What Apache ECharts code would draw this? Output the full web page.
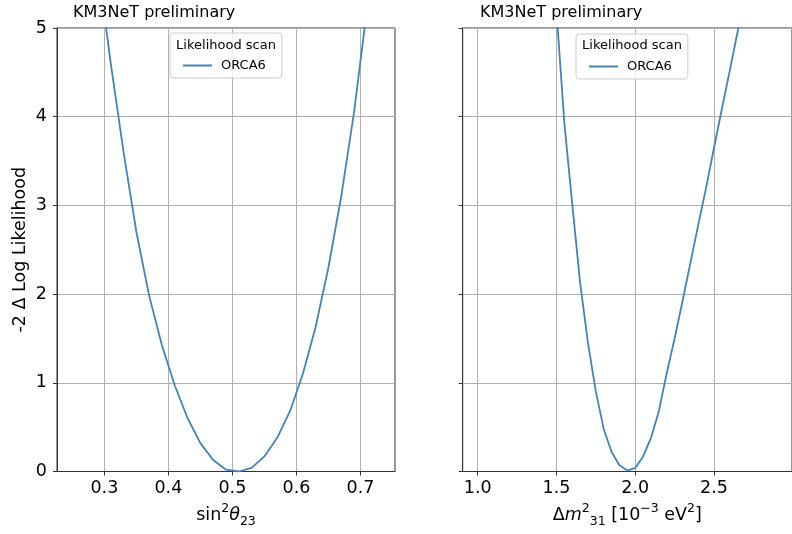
<!DOCTYPE html>
<html>
<head>
<meta charset="utf-8">
<script src="https://cdn.jsdelivr.net/npm/echarts@6/dist/echarts.min.js"></script>
<style>
  html, body { margin: 0; padding: 0; background: #fff; }
  #chart { width: 792px; height: 534px; }
</style>
</head>
<body>
<div id="chart"></div>
<script>
// sin^2 theta_23 scan
const sinX = [0.29, 0.31, 0.33, 0.35, 0.37, 0.39, 0.41, 0.43, 0.45, 0.47, 0.49, 0.51,
  0.53, 0.55, 0.57, 0.59, 0.61, 0.63, 0.65, 0.67, 0.69, 0.71]
const sinLL = [5.7, 4.6, 3.6, 2.7, 1.98, 1.42, 0.97, 0.6, 0.32, 0.13, 0.02, 0.0,
  0.04, 0.17, 0.38, 0.68, 1.1, 1.63, 2.3, 3.1, 4.05, 5.2]

// delta m^2_31 scan
const dmX = [1.45, 1.50, 1.55, 1.60, 1.65, 1.70, 1.75, 1.80, 1.85, 1.90, 1.95, 2.00, 2.05,
  2.10, 2.15, 2.20, 2.25, 2.30, 2.35, 2.40, 2.45, 2.50, 2.55, 2.60, 2.65, 2.70]
const dmLL = [6.6, 5.2, 3.93, 3.02, 2.13, 1.45, 0.9, 0.48, 0.22, 0.07, 0.01, 0.04, 0.17,
  0.38, 0.68, 1.11, 1.5, 1.92, 2.35, 2.78, 3.2, 3.65, 4.09, 4.52, 4.96, 5.4]

const sinTicks = [0.3, 0.4, 0.5, 0.6, 0.7]
const dmTicks = [1.0, 1.5, 2.0, 2.5]
const yTicks = [0, 1, 2, 3, 4, 5]

const font = 'DejaVu Sans'
const lineColor = '#4682b4'
const gridColor = '#b0b0b0'
const spineColor = '#333'

const chart = echarts.init(document.getElementById('chart'))

const xAxisBase = (min, max, ticks, gridIndex, name) => ({
  type: 'value',
  gridIndex: gridIndex,
  min: min,
  max: max,
  name: name,
  nameLocation: 'middle',
  nameGap: 31,
  nameTextStyle: {
    fontFamily: font,
    fontSize: 17.5,
    color: '#000',
    rich: {
      a: { fontFamily: font, fontSize: 17.5, color: '#000', lineHeight: 26, verticalAlign: 'middle' },
      it: { fontFamily: font, fontSize: 17.5, fontStyle: 'italic', color: '#000', lineHeight: 26, verticalAlign: 'middle' },
      sup: { fontFamily: font, fontSize: 12.5, color: '#000', verticalAlign: 'top', lineHeight: 26 },
      sub: { fontFamily: font, fontSize: 12.5, color: '#000', verticalAlign: 'bottom', lineHeight: 26 }
    }
  },
  axisLine: { show: true, lineStyle: { color: spineColor, width: 1 } },
  axisTick: { show: true, length: 4, customValues: ticks, lineStyle: { color: spineColor } },
  axisLabel: {
    customValues: ticks,
    margin: 8,
    fontFamily: font,
    fontSize: 17.5,
    color: '#000',
    formatter: v => v.toFixed(1)
  },
  splitLine: { show: true, lineStyle: { color: gridColor, width: 1 } }
})

const yAxisBase = (gridIndex, showLabel) => ({
  type: 'value',
  gridIndex: gridIndex,
  min: 0,
  max: 5,
  interval: 1,
  name: showLabel ? '-2 Δ Log Likelihood' : '',
  nameLocation: 'middle',
  nameGap: 28,
  nameTextStyle: { fontFamily: font, fontSize: 17.5, color: '#000' },
  axisLine: { show: true, lineStyle: { color: spineColor, width: 1 } },
  axisTick: { show: true, length: 4, lineStyle: { color: spineColor } },
  axisLabel: { show: showLabel, margin: 10, fontFamily: font, fontSize: 17.5, color: '#000',
    formatter: v => (yTicks.includes(v) ? String(v) : '') },
  splitLine: { show: true, lineStyle: { color: gridColor, width: 1 } }
})

const legendBase = (left, top) => ({
  left: left,
  top: top,
  orient: 'vertical',
  padding: [26, 16, 6, 13],
  backgroundColor: 'rgba(255,255,255,0.8)',
  borderColor: '#cccccc',
  borderWidth: 1,
  borderRadius: 3,
  icon: 'rect',
  itemWidth: 29,
  itemHeight: 2,
  data: ['ORCA6'],
  selectedMode: false,
  textStyle: { fontFamily: font, fontSize: 13, color: '#000', padding: [0, 0, 0, 4] }
})

const textEl = (x, y, text, size, align) => ({
  type: 'text',
  x: x,
  y: y,
  z: 100,
  style: {
    text: text,
    fontFamily: font,
    fontSize: size,
    fill: '#000',
    align: align,
    verticalAlign: 'middle'
  }
})

const option = {
  animation: false,
  backgroundColor: '#fff',
  grid: [
    { left: 57, top: 28, width: 338, height: 443.5, show: true, borderColor: spineColor, borderWidth: 1, backgroundColor: 'transparent' },
    { left: 462.7, top: 28, width: 337.3, height: 443.5, show: true, borderColor: spineColor, borderWidth: 1, backgroundColor: 'transparent' }
  ],
  xAxis: [
    xAxisBase(0.226, 0.754, sinTicks, 0, '{a|sin}{sup|2}{it|θ}{sub|23}'),
    xAxisBase(0.905, 2.995, dmTicks, 1, '{a|Δ}{it|m}{sup|2}{sub|31}{a| [10}{sup|−3}{a| eV}{sup|2}{a|]}')
  ],
  yAxis: [yAxisBase(0, true), yAxisBase(1, false)],
  legend: [legendBase(170, 33), legendBase(576, 34)],
  graphic: [
    textEl(73, 13, 'KM3NeT preliminary', 16, 'left'),
    textEl(480, 13, 'KM3NeT preliminary', 16, 'left'),
    textEl(226, 46, 'Likelihood scan', 13, 'center'),
    textEl(632, 46, 'Likelihood scan', 13, 'center')
  ],
  series: [
    {
      name: 'ORCA6',
      type: 'line',
      xAxisIndex: 0,
      yAxisIndex: 0,
      data: sinX.map((x, i) => [x, sinLL[i]]),
      showSymbol: false,
      symbol: 'none',
      clip: true,
      lineStyle: { color: lineColor, width: 1.8 },
      itemStyle: { color: lineColor }
    },
    {
      name: 'ORCA6',
      type: 'line',
      xAxisIndex: 1,
      yAxisIndex: 1,
      data: dmX.map((x, i) => [x, dmLL[i]]),
      showSymbol: false,
      symbol: 'none',
      clip: true,
      lineStyle: { color: lineColor, width: 1.8 },
      itemStyle: { color: lineColor }
    }
  ]
}

chart.setOption(option)
</script>
</body>
</html>
